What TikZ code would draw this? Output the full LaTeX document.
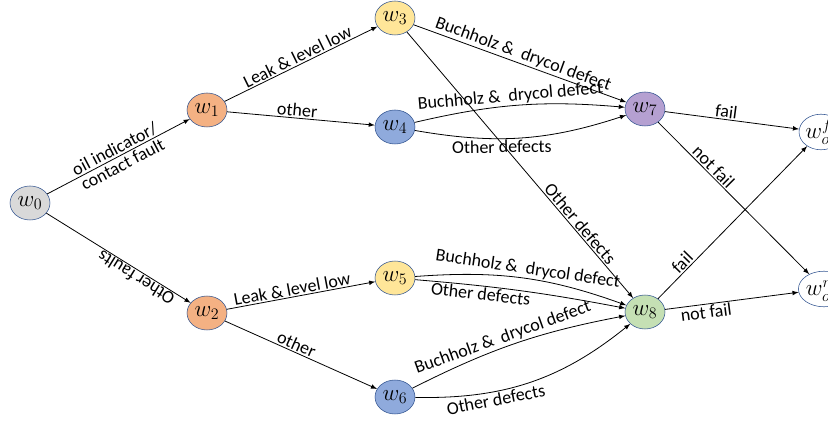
\documentclass[tikz,border=0pt]{standalone}
\usepackage{fontspec}
\setmainfont{Carlito}
\usepackage[usenames,dvipsnames]{xcolor}
\usetikzlibrary{arrows,shapes.geometric}

\definecolor{vline}{RGB}{47,82,143}
\definecolor{vgray}{RGB}{217,217,217}
\definecolor{vorange}{RGB}{244,177,131}
\definecolor{vyellow}{RGB}{255,230,153}
\definecolor{vblue}{RGB}{143,170,220}
\definecolor{vpurple}{RGB}{181,160,209}
\definecolor{vgreen}{RGB}{197,224,180}

\begin{document}
\begin{tikzpicture}[x=0.75pt,y=-0.75pt,>=latex]
    \tikzstyle{VertexStyle}=[ellipse, draw=vline, minimum width=30pt, minimum height=25.5pt, inner sep=0pt, font=\fontsize{17}{17}\selectfont]
    \tikzstyle{EndStyle}=[ellipse, draw=vline, fill=white, minimum width=30pt, minimum height=14pt, inner sep=0pt, font=\fontsize{17}{17}\selectfont]
    \tikzstyle{EdgeStyle}=[->, line width=0.6pt]
    \tikzstyle{LabelStyle}=[sloped, inner sep=1pt, font=\fontsize{13.5}{13}\selectfont]
    \useasboundingbox (0,0) rectangle (828,423);
    % states
    \node[VertexStyle, fill=vgray]   (w0) at (30,203)  {$w_0$};
    \node[VertexStyle, fill=vorange] (w1) at (207,110) {$w_1$};
    \node[VertexStyle, fill=vorange] (w2) at (207,313) {$w_2$};
    \node[VertexStyle, fill=vyellow] (w3) at (395,18)  {$w_3$};
    \node[VertexStyle, fill=vblue]   (w4) at (395,127) {$w_4$};
    \node[VertexStyle, fill=vyellow] (w5) at (395,278) {$w_5$};
    \node[VertexStyle, fill=vblue]   (w6) at (395,397) {$w_6$};
    \node[VertexStyle, fill=vpurple] (w7) at (645,109) {$w_7$};
    \node[VertexStyle, fill=vgreen]  (w8) at (645,312) {$w_8$};
    \node[EndStyle] (wf)  at (821,132) {$w^{f}_{oc}$};
    \node[EndStyle] (wnf) at (824,289) {$w^{nf}_{oc}$};
    % transitions
    \draw[EdgeStyle] (w0) -- node[LabelStyle, align=center] {oil indicator/\\contact fault} (w1);
    \draw[EdgeStyle] (w0) -- (w2);
    \node[inner sep=1pt, font=\fontsize{13.5}{13}\selectfont, rotate=148] (faults) at (136,278) {Other faults};
    \draw[EdgeStyle] (w1) -- node[LabelStyle, above] {Leak \& level low} (w3);
    \draw[EdgeStyle] (w1) -- node[LabelStyle, above, pos=0.47] {other} (w4);
    \draw[EdgeStyle] (w2) -- node[LabelStyle, above, pos=0.45] {Leak \& level low} (w5);
    \draw[EdgeStyle] (w2) -- node[LabelStyle, above, pos=0.45] {other} (w6);
    \draw[EdgeStyle] (w3) -- node[LabelStyle, above, pos=0.5] {Buchholz \& \ drycol defect} (w7);
    \draw[EdgeStyle] (w3) -- node[LabelStyle, above, pos=0.74] {Other defects} (w8);
    \draw[EdgeStyle] (w4) to[bend left=9] node[LabelStyle, above, pos=0.46] {Buchholz \& \ drycol defect} (w7);
    \draw[EdgeStyle] (w4) to[bend right=14] node[LabelStyle, below, pos=0.4] {Other defects} (w7);
    \draw[EdgeStyle] (w5) to[bend left=12] node[LabelStyle, above, pos=0.52] {Buchholz \& \ drycol defect} (w8);
    \draw[EdgeStyle] (w5) to[bend left=3] node[LabelStyle, below, pos=0.3] {Other defects} (w8);
    \draw[EdgeStyle] (w6) to[bend left=8] node[LabelStyle, above, pos=0.45] {Buchholz \& \ drycol defect} (w8);
    \draw[EdgeStyle] (w6) to[bend right=20] node[LabelStyle, below, pos=0.33] {Other defects} (w8);
    \draw[EdgeStyle] (w7) -- node[LabelStyle, above, pos=0.45] {fail} (wf);
    \draw[EdgeStyle] (w7) -- node[LabelStyle, above, pos=0.33] {not fail} (wnf);
    \draw[EdgeStyle] (w8) -- node[LabelStyle, above, pos=0.2] {fail} (wf);
    \draw[EdgeStyle] (w8) -- node[LabelStyle, below, pos=0.3] {not fail} (wnf);
\end{tikzpicture}
\end{document}
